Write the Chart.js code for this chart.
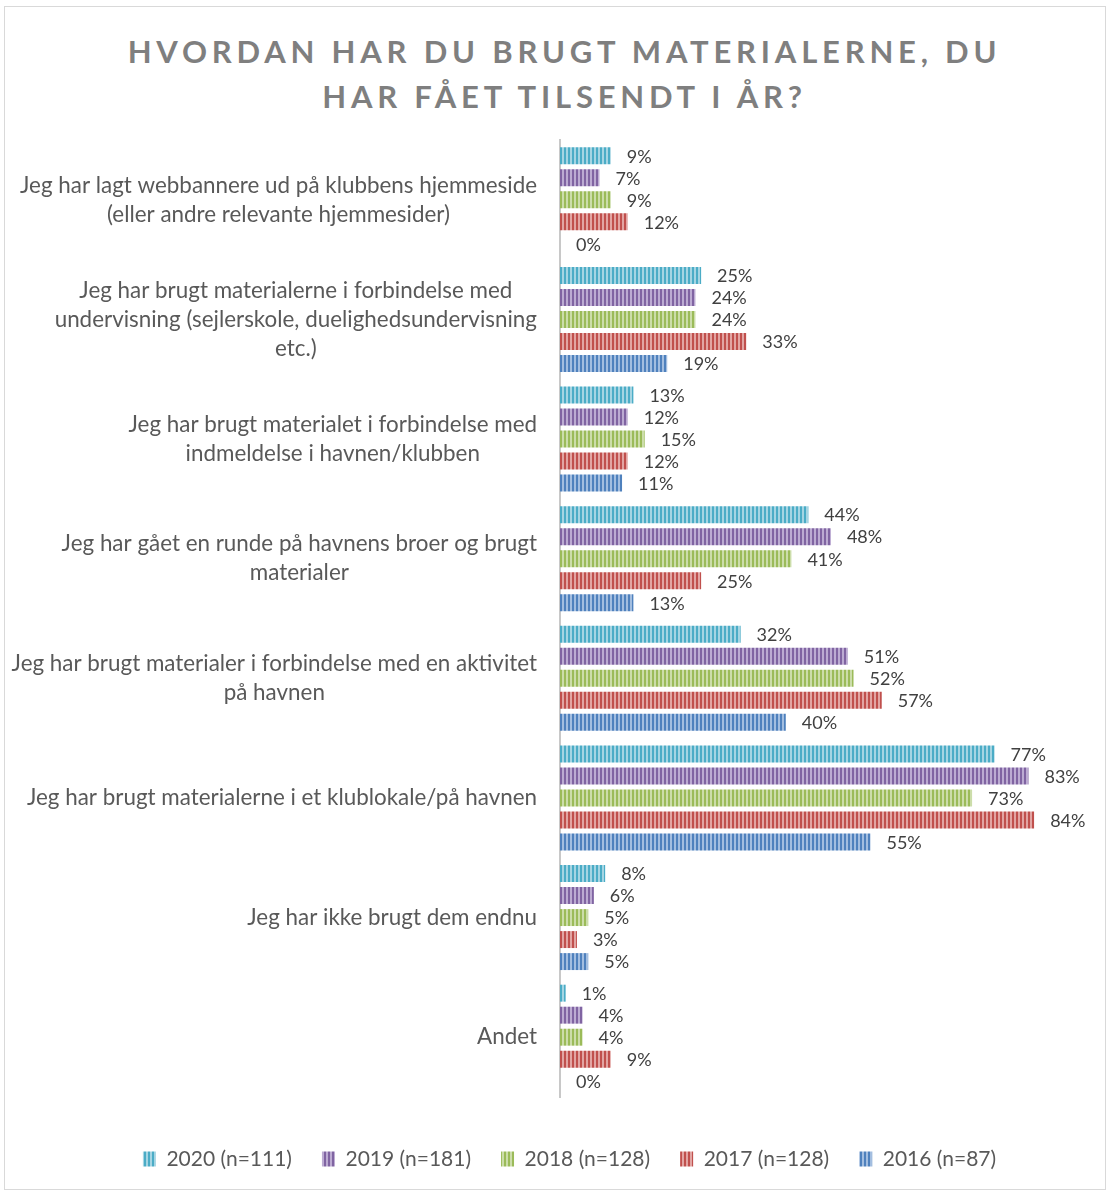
<!DOCTYPE html>
<html>
<head>
<meta charset="utf-8">
<script src="https://cdn.jsdelivr.net/npm/chart.js@4.4.1/dist/chart.umd.min.js"></script>
<style>
body { margin: 0; background: #fff; }
#wrap { position: relative; width: 1109px; height: 1191px; }
#frame { position: absolute; left: 4px; top: 6px; width: 1100px; height: 1182px; border: 1px solid #d9d9d9; }
#title { position: absolute; left: 10px; top: 29px; width: 1109px; text-align: center; font: bold 31px Lato; letter-spacing: 4.8px; color: #7f7f7f; line-height: 45px; }
canvas { position: absolute; left: 0; top: 0; }
</style>
</head>
<body>
<div id="wrap">
<div id="frame"></div>
<div id="title">HVORDAN HAR DU BRUGT MATERIALERNE, DU<br>HAR FÅET TILSENDT I ÅR?</div>
<canvas id="myChart" width="1109" height="1191"></canvas>
</div>
<script>
var categories = [
    ["Jeg har lagt webbannere ud på klubbens hjemmeside", "(eller andre relevante hjemmesider)"],
    ["Jeg har brugt materialerne i forbindelse med", "undervisning (sejlerskole, duelighedsundervisning", "etc.)"],
    ["Jeg har brugt materialet i forbindelse med", "indmeldelse i havnen/klubben"],
    ["Jeg har gået en runde på havnens broer og brugt", "materialer"],
    ["Jeg har brugt materialer i forbindelse med en aktivitet", "på havnen"],
    "Jeg har brugt materialerne i et klublokale/på havnen",
    "Jeg har ikke brugt dem endnu",
    "Andet"
]
var seriesNames = ["2020 (n=111)", "2019 (n=181)", "2018 (n=128)", "2017 (n=128)", "2016 (n=87)"]
var v2020 = [9, 25, 13, 44, 32, 77, 8, 1]
var v2019 = [7, 24, 12, 48, 51, 83, 6, 4]
var v2018 = [9, 24, 15, 41, 52, 73, 5, 4]
var v2017 = [12, 33, 12, 25, 57, 84, 3, 9]
var v2016 = [0, 19, 11, 13, 40, 55, 5, 0]

var darkColors = ["#4BACC6", "#8064A2", "#9BBB59", "#C0504D", "#4F81BD"]
var lightColors = ["#A5D5E3", "#BCABD2", "#CCDDAA", "#E2A5A3", "#A3BEE0"]

// vertical stripe fill like the office pattern
function stripes(dark, light) {
    const c = document.createElement("canvas")
    c.width = 4
    c.height = 4
    const x = c.getContext("2d")
    x.fillStyle = light
    x.fillRect(0, 0, 4, 4)
    x.fillStyle = dark
    x.fillRect(0, 0, 2, 4)
    return x.createPattern(c, "repeat")
}

var allValues = [v2020, v2019, v2018, v2017, v2016]
var datasets = []
for (var i = 0; i < allValues.length; i++) {
    datasets.push({
        label: seriesNames[i],
        data: allValues[i],
        backgroundColor: stripes(darkColors[i], lightColors[i]),
        borderWidth: 0,
        categoryPercentage: 0.92,
        barPercentage: 0.77
    })
}

const valueLabels = {
    id: "valueLabels",
    afterDatasetsDraw(chart) {
        const ctx = chart.ctx
        ctx.save()
        ctx.font = "18px Lato"
        ctx.fillStyle = "#404040"
        ctx.textAlign = "left"
        ctx.textBaseline = "middle"
        chart.data.datasets.forEach((ds, i) => {
            chart.getDatasetMeta(i).data.forEach((bar, j) => {
                ctx.fillText(ds.data[j] + "%", bar.x + 16, bar.y + 1)
            })
        })
        ctx.restore()
    }
}

// category labels: block right aligned, lines centred inside the block
const yLabels = {
    id: "yLabels",
    afterDraw(chart) {
        const ctx = chart.ctx
        const y = chart.scales.y
        ctx.save()
        ctx.font = "22.4px Lato"
        ctx.fillStyle = "#595959"
        ctx.textAlign = "center"
        ctx.textBaseline = "middle"
        chart.data.labels.forEach((lab, i) => {
            const lines = Array.isArray(lab) ? lab : [lab]
            const w = Math.max(...lines.map(l => ctx.measureText(l).width))
            const cx = y.right - 23 - w / 2
            const cy = y.getPixelForValue(i)
            lines.forEach((l, j) => ctx.fillText(l, cx, cy + (j - (lines.length - 1) / 2) * 29))
        })
        ctx.restore()
    }
}

Chart.defaults.font.family = "Lato"

var myChart = new Chart("myChart", {
    type: "bar",
    data: {
        labels: categories,
        datasets: datasets
    },
    options: {
        indexAxis: "y",
        responsive: false,
        animation: false,
        layout: { padding: { top: 140, right: 41, bottom: 11.5, left: 71 } },
        scales: {
            x: {
                min: 0,
                max: 90,
                grid: { display: false },
                border: { display: false },
                ticks: { display: false },
                afterFit(s) { s.height = 21.5 }
            },
            y: {
                grid: { display: false },
                border: { display: true, color: "#c8c8c8", width: 2 },
                ticks: { display: false },
                afterFit(s) { s.width = 489 }
            }
        },
        plugins: {
            legend: {
                position: "bottom",
                labels: {
                    color: "#595959",
                    font: { size: 21 },
                    boxWidth: 13,
                    boxHeight: 15,
                    padding: 30
                }
            },
            tooltip: { enabled: false },
            title: { display: false }
        }
    },
    plugins: [valueLabels, yLabels]
})
</script>
</body>
</html>
